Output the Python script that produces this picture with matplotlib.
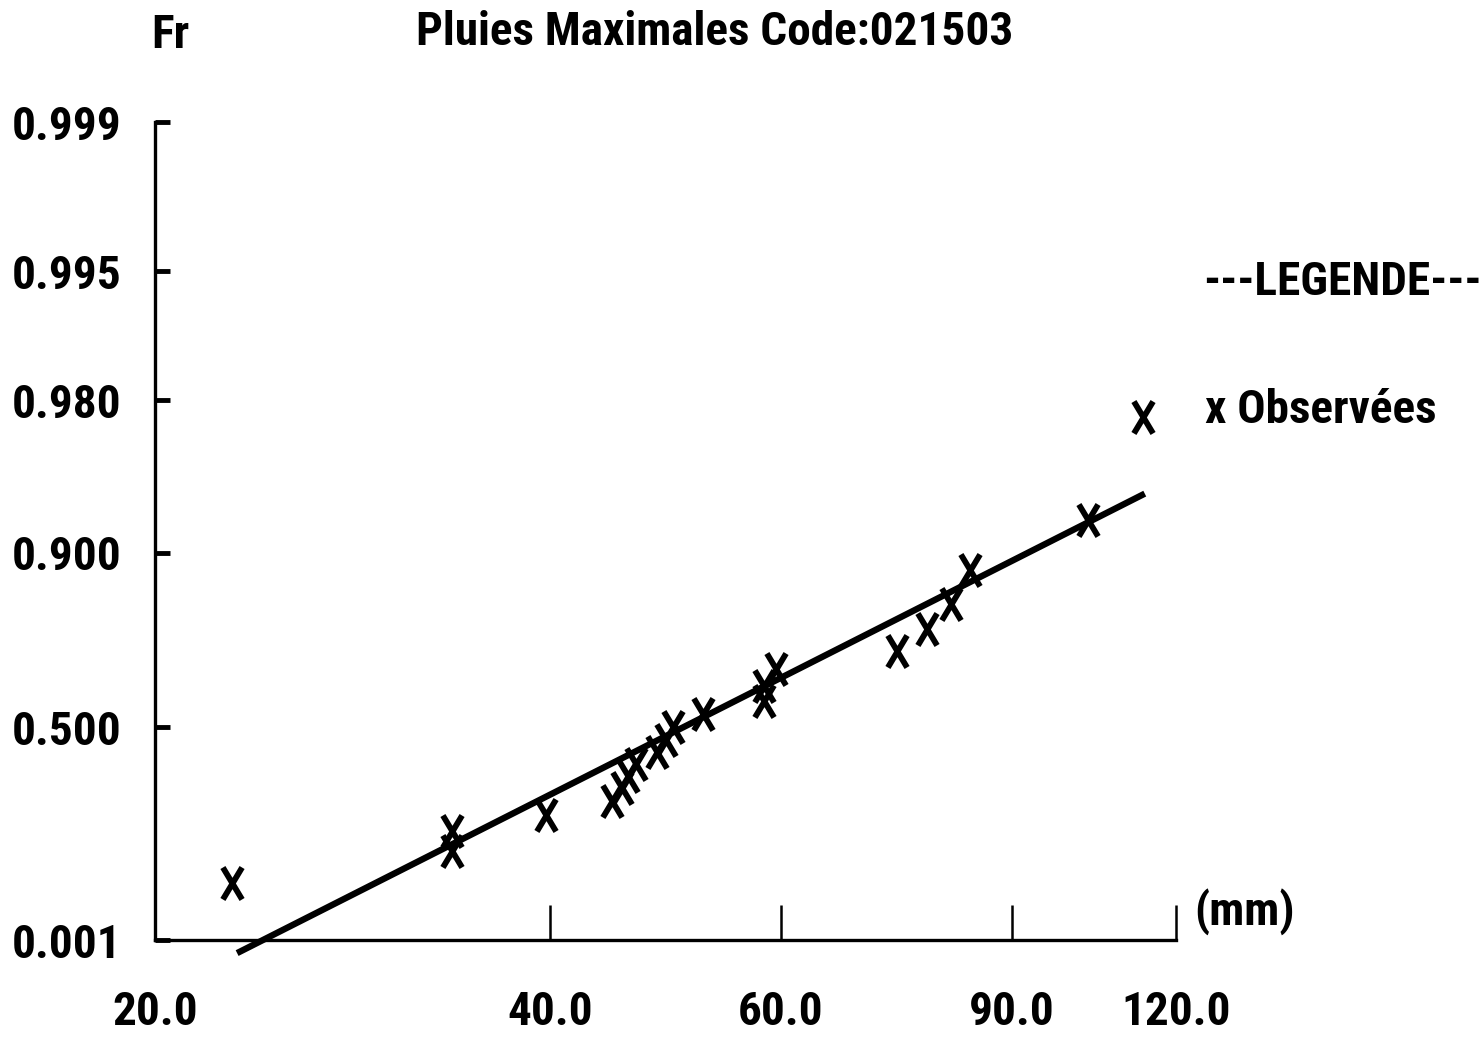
import numpy as np
import matplotlib
matplotlib.use("Agg")
import matplotlib.pyplot as plt
from matplotlib import font_manager as fm
from matplotlib.path import Path

# ---------------- data ----------------
obs_mm = [22.9, 33.7, 33.7, 39.7, 44.6, 45.4, 45.9, 46.5, 48.3, 49.0, 49.6,
          52.3, 58.2, 58.2, 59.5, 73.5, 77.5, 80.8, 83.6, 102.8, 113.2]
obs_freq = [0.024, 0.071, 0.119, 0.167, 0.214, 0.262, 0.310, 0.357, 0.405,
            0.452, 0.500, 0.548, 0.595, 0.643, 0.690, 0.738, 0.786, 0.833,
            0.881, 0.929, 0.976]
fit_mm = [23.1, 113.6]
fit_freq = [0.00035, 0.946]

x_ticks = [20, 40, 60, 90, 120]
x_ticklabels = ["20.0", "40.0", "60.0", "90.0", "120.0"]
y_ticks = [0.001, 0.500, 0.900, 0.980, 0.995, 0.999]
y_ticklabels = ["0.001", "0.500", "0.900", "0.980", "0.995", "0.999"]

title = "Pluies Maximales Code:021503"
ylabel = "Fr"
xunit = "(mm)"
legend_title = "---LEGENDE---"
legend_label = "x Observées"

# ---------------- font ----------------
avail = {f.name for f in fm.fontManager.ttflist}
FONT, FS = "DejaVu Sans Mono", 25
for cand, size in [("Liberation Sans Narrow", 36), ("Roboto Condensed", 34),
                   ("DejaVu Sans Condensed", 30), ("Liberation Mono", 25)]:
    if cand in avail:
        FONT, FS = cand, size
        break
plt.rcParams['font.family'] = [FONT, 'DejaVu Sans']

W, H = 1483, 1041
fig = plt.figure(figsize=(W / 100, H / 100), dpi=100)
fig.patch.set_facecolor("white")

left, right, top, bottom = 155, 1176, 122, 940
ax = fig.add_axes([left / W, 1 - bottom / H, (right - left) / W, (bottom - top) / H])

def fwd(F):
    F = np.clip(np.asarray(F, dtype=float), 1e-12, 1 - 1e-12)
    return -np.log(-np.log(F))

def inv(u):
    return np.exp(-np.exp(-np.asarray(u, dtype=float)))

ax.set_xscale("log")
ax.set_yscale("function", functions=(fwd, inv))
ax.set_xlim(20, 120)
ax.set_ylim(0.001, 0.999)

# custom tall X marker
xmark = Path([(-0.6, -1), (0.6, 1), (-0.6, 1), (0.6, -1)],
             [Path.MOVETO, Path.LINETO, Path.MOVETO, Path.LINETO])

ax.plot(fit_mm, fit_freq, color="black", lw=4.6, solid_capstyle="butt", clip_on=False)
ax.plot(obs_mm, obs_freq, linestyle="none", marker=xmark, markersize=23,
        markeredgewidth=4.2, color="black", clip_on=False)

for s in ["top", "right"]:
    ax.spines[s].set_visible(False)
for s in ["left", "bottom"]:
    ax.spines[s].set_linewidth(2.4)
    ax.spines[s].set_color("black")

ax.set_xticks(x_ticks)
ax.set_xticklabels(x_ticklabels)
ax.xaxis.set_minor_locator(matplotlib.ticker.NullLocator())
ax.set_yticks(y_ticks)
ax.set_yticklabels(y_ticklabels)
ax.yaxis.set_minor_locator(matplotlib.ticker.NullLocator())

ax.tick_params(axis="x", direction="in", length=25, width=1.8, pad=36,
               labelsize=FS, colors="black")
ax.tick_params(axis="y", direction="in", length=11, width=3.5, pad=24,
               labelsize=FS, colors="black")
for t in ax.get_xticklabels() + ax.get_yticklabels():
    t.set_fontweight("bold")

fig.text(715 / W, 1 - 32 / H, title, ha="center", va="center",
         fontsize=FS, fontweight="bold")
fig.text(170 / W, 1 - 35 / H, ylabel, ha="center", va="center",
         fontsize=FS, fontweight="bold")
fig.text(1245 / W, 1 - 912 / H, xunit, ha="center", va="center",
         fontsize=FS, fontweight="bold")
fig.text(1342 / W, 1 - 282 / H, legend_title, ha="center", va="center",
         fontsize=FS, fontweight="bold")
fig.text(1205 / W, 1 - 410 / H, legend_label, ha="left", va="center",
         fontsize=FS, fontweight="bold")

fig.savefig("out.png", dpi=100, facecolor="white")
